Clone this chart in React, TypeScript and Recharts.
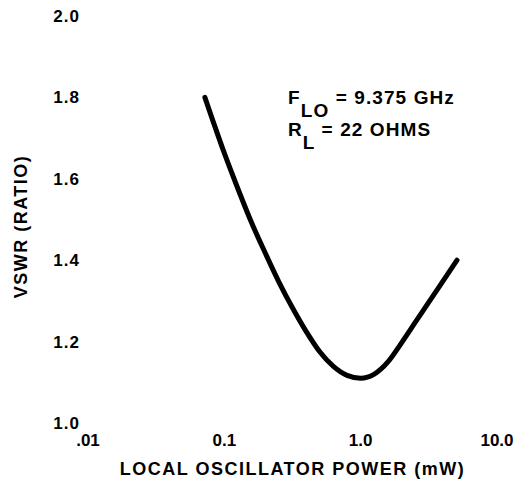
import React from "react";
import { LineChart, Line, XAxis, YAxis, ReferenceDot } from "recharts";

// Readings from the reference (power in mW, VSWR ratio)
const powerMw = [
  0.072, 0.1, 0.126, 0.158, 0.2, 0.251, 0.316, 0.398, 0.501, 0.631, 0.794, 1.0,
  1.259, 1.585, 1.995, 2.512, 3.162, 3.981, 5.09,
];
const vswr = [
  1.8, 1.663, 1.575, 1.493, 1.417, 1.347, 1.283, 1.225, 1.175, 1.139, 1.117, 1.11,
  1.12, 1.15, 1.197, 1.247, 1.297, 1.347, 1.4,
];
const xTicks = [0.01, 0.1, 1, 10];
const xTickLabels = [".01", "0.1", "1.0", "10.0"];
const yTicks = [1.0, 1.2, 1.4, 1.6, 1.8, 2.0];
const annotAnchor = { x: 0.293, y: 1.784 };

const data = powerMw.map((p, i) => ({ p, v: vswr[i] }));

const FONT = "'Liberation Sans', Arial, Helvetica, sans-serif";

const renderAnnot = (props: any) => {
  const vb = props.viewBox || {};
  const x = (vb.x ?? 0) + (vb.width ?? 0) / 2;
  const y = (vb.y ?? 0) + (vb.height ?? 0) / 2;
  return (
    <g fontFamily={FONT} fontWeight={700} fontSize={19} fill="#000">
      <text x={x} y={y} letterSpacing={1.1}>
        F<tspan dy={13}>LO</tspan>
        <tspan dy={-13}> = 9.375 GHz</tspan>
      </text>
      <text x={x} y={y + 32} letterSpacing={1.1}>
        R<tspan dy={13}>L</tspan>
        <tspan dy={-13}> = 22 OHMS</tspan>
      </text>
    </g>
  );
};

const renderYLabel = (props: any) => {
  const vb = props.viewBox || {};
  const cx = (vb.x ?? 0) + 13;
  const cy = (vb.y ?? 0) + (vb.height ?? 0) / 2 + 7;
  return (
    <text
      transform={`translate(${cx}, ${cy}) rotate(-90)`}
      textAnchor="middle"
      dominantBaseline="central"
      fontFamily={FONT}
      fontWeight={700}
      fontSize={18}
      letterSpacing={1.5}
      fill="#000"
    >
      VSWR (RATIO)
    </text>
  );
};

const renderXLabel = (props: any) => {
  const vb = props.viewBox || {};
  const cx = (vb.x ?? 0) + (vb.width ?? 0) / 2;
  const y = (vb.y ?? 0) + 52;
  return (
    <text
      x={cx}
      y={y}
      textAnchor="middle"
      fontFamily={FONT}
      fontWeight={700}
      fontSize={18}
      letterSpacing={1.5}
      fill="#000"
    >
      LOCAL OSCILLATOR POWER (mW)
    </text>
  );
};

export default function App() {
  return (
    <div style={{ width: 520, height: 477, background: "#fff" }}>
      <LineChart
        width={520}
        height={477}
        data={data}
        margin={{ top: 8, right: 31, left: 0, bottom: 7 }}
      >
        <XAxis
          dataKey="p"
          type="number"
          scale="log"
          domain={[0.01, 10]}
          ticks={xTicks}
          tickFormatter={(v: number) => xTickLabels[xTicks.indexOf(v)] ?? String(v)}
          axisLine={false}
          tickLine={false}
          tickMargin={5}
          height={55}
          allowDataOverflow
          interval={0}
          tick={{ fontFamily: FONT, fontWeight: 700, fontSize: 17, fill: "#000" }}
          label={renderXLabel}
        />
        <YAxis
          type="number"
          domain={[1, 2]}
          ticks={yTicks}
          interval={0}
          tickFormatter={(v: number) => v.toFixed(1)}
          axisLine={false}
          tickLine={false}
          width={80}
          tick={{ fontFamily: FONT, fontWeight: 700, fontSize: 17, fill: "#000", letterSpacing: 1 }}
          label={renderYLabel}
        />
        <Line
          type="monotone"
          dataKey="v"
          stroke="#000"
          strokeWidth={5}
          strokeLinecap="round"
          dot={false}
          isAnimationActive={false}
        />
        <ReferenceDot
          x={annotAnchor.x}
          y={annotAnchor.y}
          r={0}
          fill="none"
          stroke="none"
          label={renderAnnot}
        />
      </LineChart>
    </div>
  );
}
